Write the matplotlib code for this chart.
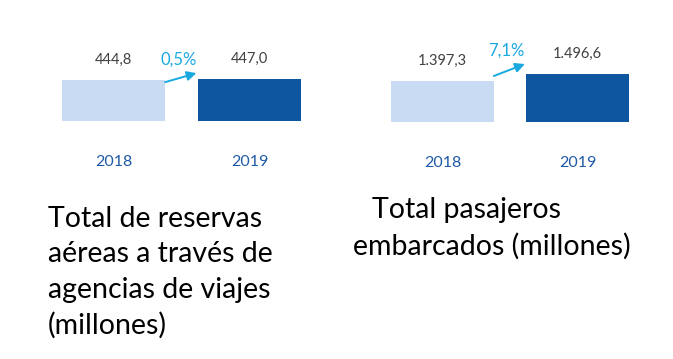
import matplotlib
matplotlib.use("Agg")
import matplotlib.pyplot as plt

years = ["2018", "2019"]
reservas = [444.8, 447.0]
reservas_labels = ["444,8", "447,0"]
reservas_pct = "0,5%"
pasajeros = [1397.3, 1496.6]
pasajeros_labels = ["1.397,3", "1.496,6"]
pasajeros_pct = "7,1%"
title_left = "Total de reservas\naéreas a través de\nagencias de viajes\n(millones)"
title_right = "Total pasajeros\nembarcados (millones)"

LIGHT = "#C9DBF2"
DARK = "#0E56A0"
YEAR_BLUE = "#1F5AA6"
CYAN = "#19A9E1"
GREY = "#404040"
FONT = "Lato"

W, H = 673, 359
AX_H = 81  # axes height in pixels
fig = plt.figure(figsize=(W / 100, H / 100), dpi=100)
fig.patch.set_facecolor("white")


def px_axes(left, bottom_from_top, width):
    return fig.add_axes((left / W, (H - bottom_from_top) / H, width / W, AX_H / H))


def draw_panel(ax, values, labels, pct, ylim, arrow_px):
    xs = [0, 1]
    width = 0.76
    ax.bar(xs, values, width=width, color=[LIGHT, DARK])
    ax.set_xlim(-0.5, 1.5)
    ax.set_ylim(*ylim)
    ax.axis("off")
    for x, v, lab, yr in zip(xs, values, labels, years):
        ax.annotate(lab, (x, v), xytext=(0, 14.5), textcoords="offset points",
                    ha="center", va="center", fontsize=10.5, color=GREY,
                    family=FONT, annotation_clip=False)
        ax.annotate(yr, (x, 0), xycoords=("data", "axes fraction"),
                    xytext=(0, -29.5), textcoords="offset points",
                    ha="center", va="center", fontsize=11.5, color=YEAR_BLUE,
                    family=FONT, annotation_clip=False)
    # growth arrow from top right of first bar to top left of second
    per_px = (ylim[1] - ylim[0]) / AX_H
    x0 = xs[0] + width / 2
    x1 = xs[1] - width / 2 - 0.01
    y0 = values[0] + arrow_px[0] * per_px
    y1 = values[1] + arrow_px[1] * per_px
    ax.annotate("", xy=(x1, y1), xytext=(x0, y0),
                arrowprops=dict(arrowstyle="-|>", color=CYAN, lw=1.4,
                                mutation_scale=14, shrinkA=0, shrinkB=0),
                annotation_clip=False)
    ax.annotate(pct, (x1, y1), xytext=(-13, 10),
                textcoords="offset points", ha="center", va="center",
                fontsize=12, color=CYAN, family=FONT, annotation_clip=False)


ax_l = px_axes(45.5, 121, 272)
ax_r = px_axes(375, 122, 270)
draw_panel(ax_l, reservas, reservas_labels, reservas_pct, (355, 533), (-2, 6))
draw_panel(ax_r, pasajeros, pasajeros_labels, pasajeros_pct, (816, 1965), (5, 10))

for i, line in enumerate(title_left.split("\n")):
    fig.text(48 / W, 1 - (227 + 35.5 * i) / H, line, ha="left", va="baseline",
             fontsize=20.5, family=FONT, color="black")

right_centers = [466, 492]
for i, line in enumerate(title_right.split("\n")):
    fig.text(right_centers[i] / W, 1 - (218 + 37 * i) / H, line, ha="center",
             va="baseline", fontsize=20.5, family=FONT, color="black")

fig.savefig("out.png", dpi=100, facecolor="white")
